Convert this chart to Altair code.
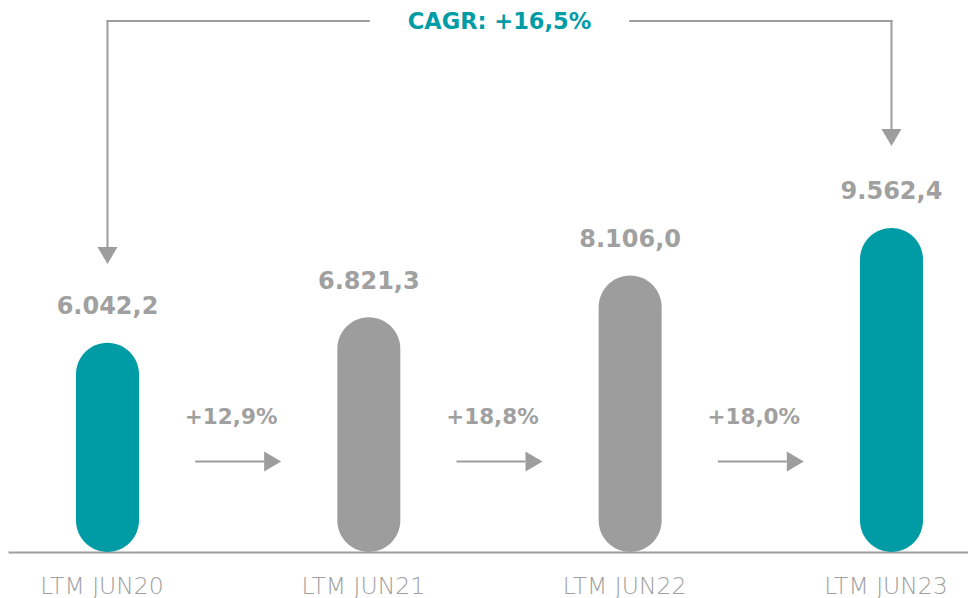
import altair as alt
import pandas as pd

# ---- data ----
categories = ["LTM JUN20", "LTM JUN21", "LTM JUN22", "LTM JUN23"]
values = [6042.2, 6821.3, 8106.0, 9562.4]
value_labels = ["6.042,2", "6.821,3", "8.106,0", "9.562,4"]
kinds = ["highlight", "base", "base", "highlight"]
growth_labels = ["+12,9%", "+18,8%", "+18,0%"]
cagr_label = "CAGR: +16,5%"

# ---- style / layout ----
TEAL = "#009CA6"
GRAY = "#9D9D9D"
TEXT_GRAY = "#A0A0A0"
W, H = 960, 544
XMIN, XMAX = -0.3807, 3.2928
YMIN, YMAX = -383, 16314
BAR_W = 63
ARROW_Y = 453.5
GROWTH_Y = 416
BRACKET_Y = 13
TRI_R = "M-0.85,-1L0.85,0L-0.85,1Z"
TRI_D = "M-1,-0.85L1,-0.85L0,0.85Z"

bars_df = pd.DataFrame({
    "idx": list(range(len(categories))),
    "cat": categories,
    "value": values,
    "label": value_labels,
    "kind": kinds,
})

mids = [i + 0.5 for i in range(len(growth_labels))]
growth_df = pd.DataFrame({
    "mid": mids,
    "label": growth_labels,
    "x1": [m - 0.1645 for m in mids],
    "x2": [m + 0.0995 for m in mids],
    "tip": [m + 0.132 for m in mids],
})

xs = alt.Scale(domain=[XMIN, XMAX], nice=False, zero=False, padding=0)
ys = alt.Scale(domain=[YMIN, YMAX], nice=False, zero=False, padding=0)

base = alt.Chart(bars_df)

bars = base.mark_bar(size=BAR_W, cornerRadius=BAR_W / 2).encode(
    x=alt.X("idx:Q", scale=xs, axis=alt.Axis(
        values=[0, 1, 2, 3],
        labelExpr="['LTM JUN20','LTM JUN21','LTM JUN22','LTM JUN23'][datum.value]",
        title=None, grid=False, ticks=False, tickSize=0,
        domainColor=GRAY, domainWidth=2,
        labelFont="DejaVu Sans", labelFontWeight=200, labelFontSize=23.5,
        labelColor=TEXT_GRAY, labelPadding=41, labelBaseline="alphabetic",
        labelOffset=-6, labelFlush=False, labelOverlap=False)),
    y=alt.Y("value:Q", scale=ys, axis=None),
    y2=alt.datum(YMIN),
    color=alt.Color("kind:N", scale=alt.Scale(domain=["highlight", "base"], range=[TEAL, GRAY]), legend=None),
)

value_text = base.mark_text(
    dy=-28.5, baseline="alphabetic", font="DejaVu Sans", fontWeight="bold",
    fontSize=24, color=TEXT_GRAY,
).encode(x=alt.X("idx:Q", scale=xs), y=alt.Y("value:Q", scale=ys), text="label:N")

g = alt.Chart(growth_df)
growth_text = g.mark_text(
    dx=-7, baseline="alphabetic", font="DejaVu Sans", fontWeight="bold",
    fontSize=21.5, color=TEXT_GRAY,
).encode(x=alt.X("mid:Q", scale=xs), y=alt.value(GROWTH_Y), text="label:N")

growth_line = g.mark_rule(color=GRAY, strokeWidth=2).encode(
    x=alt.X("x1:Q", scale=xs), x2="x2:Q", y=alt.value(ARROW_Y))

growth_head = g.mark_point(shape=TRI_R, size=400, filled=True, opacity=1, color=GRAY).encode(
    x=alt.X("tip:Q", scale=xs), y=alt.value(ARROW_Y))

# CAGR bracket
bracket_df = pd.DataFrame({"x1": [0, 2], "x2": [1, 3]})
bracket_h = alt.Chart(bracket_df).mark_rule(color=GRAY, strokeWidth=2, strokeCap="square").encode(
    x=alt.X("x1:Q", scale=xs), x2="x2:Q", y=alt.value(BRACKET_Y))

left_df = pd.DataFrame({"x": [0]})
right_df = pd.DataFrame({"x": [3]})
left_v = alt.Chart(left_df).mark_rule(color=GRAY, strokeWidth=2, strokeCap="square").encode(
    x=alt.X("x:Q", scale=xs), y=alt.value(BRACKET_Y), y2=alt.value(240))
right_v = alt.Chart(right_df).mark_rule(color=GRAY, strokeWidth=2, strokeCap="square").encode(
    x=alt.X("x:Q", scale=xs), y=alt.value(BRACKET_Y), y2=alt.value(122))
left_head = alt.Chart(left_df).mark_point(shape=TRI_D, size=400, filled=True, opacity=1, color=GRAY).encode(
    x=alt.X("x:Q", scale=xs), y=alt.value(247.5))
right_head = alt.Chart(right_df).mark_point(shape=TRI_D, size=400, filled=True, opacity=1, color=GRAY).encode(
    x=alt.X("x:Q", scale=xs), y=alt.value(129.5))

cagr_df = pd.DataFrame({"x": [1.5], "label": [cagr_label]})
cagr_text = alt.Chart(cagr_df).mark_text(
    baseline="alphabetic", font="DejaVu Sans", fontWeight="bold", fontSize=22.5, color=TEAL,
).encode(x=alt.X("x:Q", scale=xs), y=alt.value(21), text="label:N")

chart = alt.layer(
    bars, value_text, growth_line, growth_head, growth_text,
    bracket_h, left_v, right_v, left_head, right_head, cagr_text,
).properties(
    width=W, height=H,
    padding={"left": 0, "top": 0, "right": 0, "bottom": 50},
    autosize=alt.AutoSizeParams(type="none"),
    background="white",
).configure_view(stroke=None)

chart.save("out.html", embed_options={"renderer": "svg", "actions": False})
